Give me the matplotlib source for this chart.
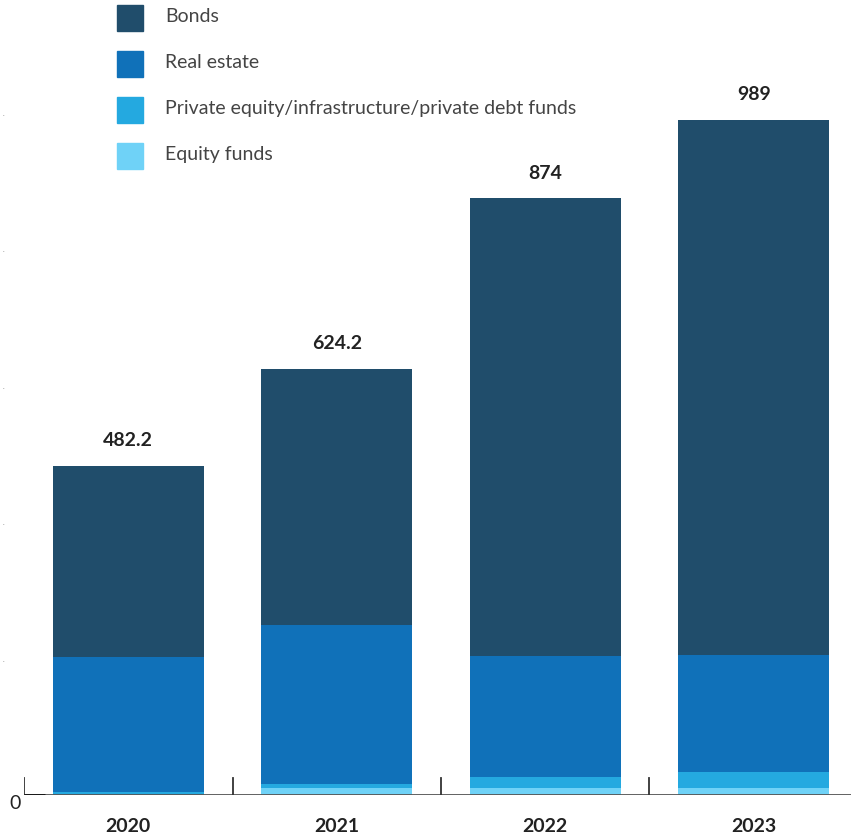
import matplotlib.pyplot as plt
from matplotlib.patches import Rectangle
import numpy as np

plt.rcParams['font.family'] = ['Lato', 'DejaVu Sans']

# Portfolio breakdown by year (stacked from the bottom up)
years = ["2020", "2021", "2022", "2023"]
equity_funds = [0.0, 9.0, 9.5, 9.5]
private_funds = [3.0, 7.0, 16.5, 23.5]
real_estate = [199.0, 232.0, 177.0, 171.5]
bonds = [280.2, 376.2, 671.0, 784.5]
totals = [482.2, 624.2, 874, 989]
total_labels = ["482.2", "624.2", "874", "989"]

series_names = ["Bonds", "Real estate",
                "Private equity/infrastructure/private debt funds", "Equity funds"]
colors = ["#204d6b", "#1071b9", "#24a9e0", "#6fd2f7"]

W, H = 851, 837
fig = plt.figure(figsize=(W / 100, H / 100), dpi=100)
ax = fig.add_axes([24 / W, 41.5 / H, 1 - 24 / W, 1 - 41.5 / H])

x = np.arange(len(years))
width = 0.724
bottom = np.zeros(len(years))
for vals, col in zip([equity_funds, private_funds, real_estate, bonds],
                     [colors[3], colors[2], colors[1], colors[0]]):
    ax.bar(x, vals, width, bottom=bottom, color=col, linewidth=0, zorder=2)
    bottom += np.array(vals)

for xi, t, lab in zip(x, totals, total_labels):
    ax.text(xi, t + 26, lab, ha="center", va="bottom", fontsize=14,
            fontweight="bold", color="#222222")

ax.set_xlim(-0.5, -0.5 + (W - 24) / 208.5)
ax.set_ylim(0, 795.5 / 0.682)

# baseline and category separators
ax.axhline(0, color="#555555", lw=1.3, zorder=3)
ax.plot([-0.5, -0.4], [0, 0], color="#111111", lw=2, zorder=4,
        solid_capstyle="butt")
for b in np.arange(-0.5, 3.0, 1.0):
    ax.plot([b, b], [0, 24], color="#333333", lw=1.3, zorder=3)

for s in ax.spines.values():
    s.set_visible(False)
ax.set_xticks(x)
ax.set_xticklabels(years, fontsize=14, fontweight="bold", color="#222222")
ax.tick_params(axis="x", length=0, pad=16)
ax.set_yticks([])
ax.set_facecolor("none")

# left-hand value marks
fig.text(15 / W, 1 - 804 / H, "0", ha="center", va="center", fontsize=14,
         color="#222222")
for v in [200, 400, 600, 800, 1000]:
    ax.text(-0.5 - 21 / 208.5, v, ".", ha="center", va="center", fontsize=5,
            color="#888888", clip_on=False)

# legend
for i, (name, col) in enumerate(zip(series_names, colors)):
    yc = 18.5 + i * 46
    fig.patches.append(Rectangle((117 / W, 1 - (yc + 13) / H), 26 / W, 26 / H,
                                 transform=fig.transFigure, color=col))
    fig.text(165 / W, 1 - (yc - 2) / H, name, ha="left", va="center",
             fontsize=14, color="#444444")

fig.savefig("out.png", dpi=100)
